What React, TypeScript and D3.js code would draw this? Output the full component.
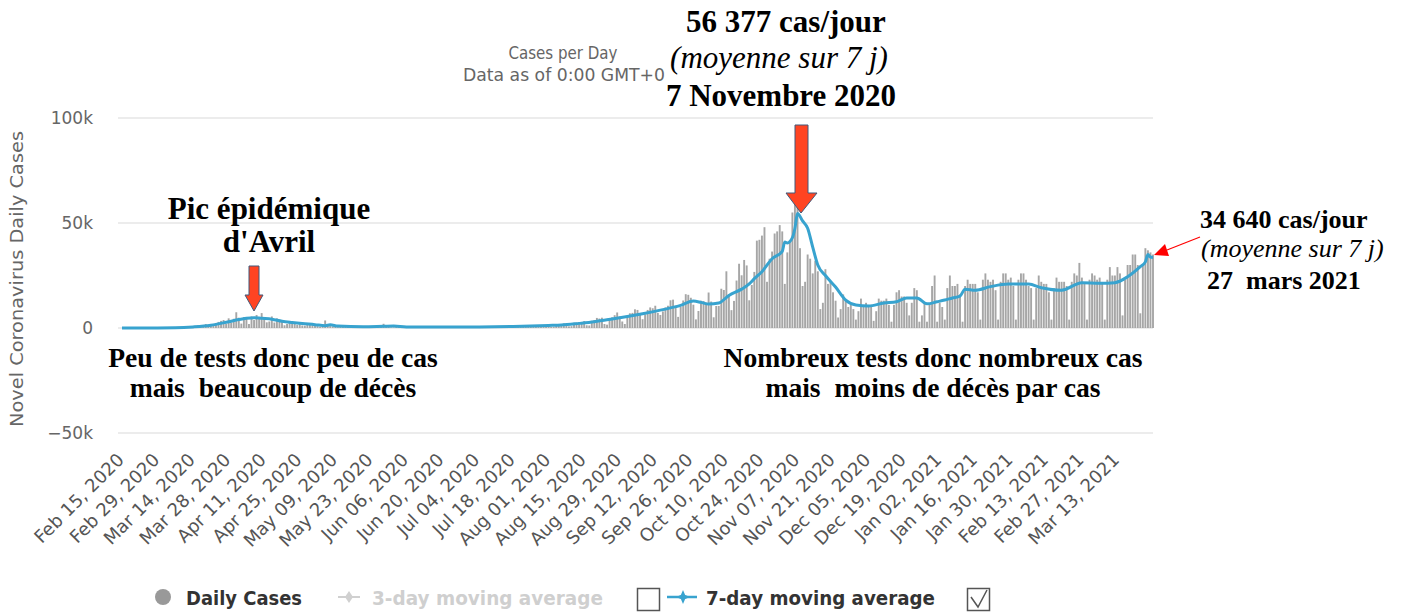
import React from "react";
import * as d3 from "d3";

const START = "2020-02-15";

// daily cases (thousands), one row per week, Sat -> Fri
const dailyCasesK = [
  0, 0, 0, 0, 0, 0, 0,
  0, 0, 0, 0, 0.01, 0.02, 0.02,
  0.04, 0.03, 0.04, 0.06, 0.05, 0.08, 0.3,
  0.1, 0.1, 0.3, 0.2, 0.4, 0.5, 0.8,
  0.8, 0.9, 1.2, 1.1, 1.4, 1.9, 1.6,
  1.8, 1.6, 2.4, 2.9, 3.4, 3.8, 1.9,
  4.6, 2.6, 4.4, 7.5, 4.9, 2.1, 5.2,
  4.3, 1.9, 5.5, 3.8, 6.2, 4.8, 7.1,
  4.3, 2.7, 3.1, 5.5, 2.6, 4.6, 3.6,
  3.0, 1.3, 1.9, 3.0, 2.3, 2.7, 1.5,
  1.9, 1.2, 1.1, 2.4, 1.8, 1.5, 1.3,
  0.9, 0.6, 0.6, 3.6, 1.2, 1.1, 0.8,
  0.6, 0.4, 0.5, 0.9, 1.0, 0.9, 0.7,
  0.5, 0.3, 0.3, 0.8, 0.7, 0.6, 0.5,
  0.4, 0.3, 0.3, 0.6, 0.5, 2.0, 0.8,
  0.8, 0.3, 0.3, 0.8, 0.7, 0.6, 0.5,
  0.5, 0.3, 0.2, 0.5, 0.5, 0.5, 0.5,
  0.4, 0.3, 0.3, 0.5, 0.6, 0.5, 0.4,
  0.4, 0.2, 0.3, 0.5, 0.6, 0.6, 0.5,
  0.5, 0.3, 0.3, 0.6, 0.6, 0.7, 0.6,
  0.5, 0.3, 0.3, 0.6, 0.6, 0.7, 0.6,
  0.6, 0.3, 0.3, 0.8, 0.8, 0.9, 0.7,
  0.7, 0.4, 0.4, 1.0, 1.1, 1.2, 1.0,
  1.0, 0.5, 0.5, 1.4, 1.4, 1.4, 1.3,
  1.3, 0.5, 0.6, 1.7, 1.7, 1.8, 2.2,
  2.0, 0.8, 0.9, 2.5, 2.6, 2.7, 2.8,
  3.3, 1.3, 1.2, 3.4, 3.8, 4.8, 4.5,
  4.9, 1.9, 1.6, 4.5, 5.1, 6.1, 7.4,
  5.5, 3.1, 1.9, 5.5, 7.0, 7.2, 8.9,
  8.6, 7.1, 4.2, 6.5, 8.6, 9.8, 9.4,
  10.6, 7.2, 6.2, 7.9, 9.8, 10.6, 13.2,
  13.5, 10.6, 5.3, 10.0, 13.1, 16.1, 15.8,
  14.4, 11.1, 4.1, 8.1, 13.0, 12.8, 12.1,
  16.9, 12.6, 5.1, 10.5, 10.5, 18.7, 18.1,
  27.0, 16.1, 8.5, 12.9, 22.6, 30.6, 25.1,
  32.4, 29.8, 13.2, 20.5, 26.7, 41.6, 42.0,
  44.0, 48.0, 22.0, 33.0, 36.4, 45.0, 46.0,
  49.0, 46.0, 21.0, 36.0, 41.0, 55.0, 61.0,
  86.0, 38.0, 20.0, 22.0, 35.0, 33.0, 26.0,
  32.0, 27.0, 9.0, 12.0, 28.0, 21.0, 22.0,
  17.0, 13.0, 5.0, 9.0, 16.0, 13.0, 10.0,
  11.0, 9.0, 4.0, 8.0, 14.0, 11.0, 12.0,
  11.0, 11.0, 3.4, 8.0, 14.0, 13.0, 13.0,
  14.0, 11.0, 3.0, 11.0, 17.0, 18.0, 15.0,
  15.0, 12.0, 6.0, 12.0, 19.0, 18.0, 3.0,
  6.0, 12.0, 3.0, 11.0, 20.0, 25.0, 3.0,
  12.0, 10.0, 4.0, 19.0, 25.0, 20.0, 20.0,
  21.0, 16.0, 3.0, 20.0, 23.0, 21.0, 21.0,
  21.0, 17.0, 4.0, 23.0, 26.0, 23.0, 22.0,
  23.0, 18.0, 4.0, 22.0, 26.0, 26.0, 23.0,
  24.0, 20.0, 4.0, 23.0, 26.0, 26.0, 23.0,
  20.0, 19.0, 4.0, 19.0, 25.0, 22.0, 21.0,
  21.0, 17.0, 4.0, 19.0, 24.0, 22.0, 22.0,
  22.0, 20.0, 4.0, 22.0, 26.0, 25.0, 31.0,
  24.0, 21.0, 4.0, 23.0, 26.0, 25.0, 23.0,
  24.0, 21.0, 4.0, 23.0, 29.0, 25.0, 25.0,
  29.0, 26.0, 6.0, 23.0, 30.0, 30.0, 35.0,
  35.0, 30.0, 7.0, 30.0, 38.0, 37.0, 36.0,
  35.0,
];

// 7-day moving average (thousands), read at the turning points
const avgDates = [
  "2020-02-15", "2020-02-29", "2020-03-07", "2020-03-14", "2020-03-21", "2020-03-28",
  "2020-04-01", "2020-04-04", "2020-04-07", "2020-04-10", "2020-04-14", "2020-04-18",
  "2020-04-22", "2020-04-26", "2020-05-01", "2020-05-05", "2020-05-07", "2020-05-10",
  "2020-05-20", "2020-05-28", "2020-06-01", "2020-06-06", "2020-06-20", "2020-07-04",
  "2020-07-18", "2020-08-01", "2020-08-06", "2020-08-13", "2020-08-19", "2020-08-26",
  "2020-09-01", "2020-09-07", "2020-09-14", "2020-09-18", "2020-09-22", "2020-09-27",
  "2020-09-30", "2020-10-03", "2020-10-07", "2020-10-11", "2020-10-16", "2020-10-19",
  "2020-10-21", "2020-10-24", "2020-10-28", "2020-11-01", "2020-11-02", "2020-11-03",
  "2020-11-05", "2020-11-06", "2020-11-07", "2020-11-09", "2020-11-11", "2020-11-13",
  "2020-11-15", "2020-11-18", "2020-11-22", "2020-11-26", "2020-11-30", "2020-12-05",
  "2020-12-11", "2020-12-16", "2020-12-20", "2020-12-24", "2020-12-28", "2021-01-01",
  "2021-01-04", "2021-01-07", "2021-01-10", "2021-01-12", "2021-01-16", "2021-01-22",
  "2021-01-29", "2021-02-06", "2021-02-11", "2021-02-19", "2021-02-27", "2021-03-06",
  "2021-03-12", "2021-03-17", "2021-03-22", "2021-03-24", "2021-03-25", "2021-03-26",
  "2021-03-27",
];
const avgValuesK = [
  0, 0.02, 0.1, 0.5, 1.3, 3.0,
  4.0, 4.6, 4.9, 4.6, 4.2, 3.2,
  2.6, 2.1, 1.6, 1.1, 1.5, 0.9,
  0.6, 0.8, 0.9, 0.5, 0.45, 0.5,
  0.75, 1.2, 1.4, 2.2, 3.0, 4.3,
  5.5, 6.8, 8.5, 9.6, 10.8, 12.8,
  12.2, 11.4, 11.9, 15.5, 18.5, 21.0,
  23.5, 26.8, 33.0, 36.5, 41.0, 40.5,
  43.0, 47.5, 54.5, 51.0, 47.5, 38.5,
  30.0, 25.0, 19.5, 13.3, 11.0, 10.5,
  11.9, 12.5, 14.3, 14.3, 11.5, 12.5,
  13.3, 14.3, 15.2, 18.5, 18.0, 19.7,
  20.9, 20.9, 19.2, 18.0, 21.6, 21.3,
  21.6, 24.4, 29.2, 31.5, 35.0, 33.8,
  33.6,
];

const xTickLabels = [
  "Feb 15, 2020", "Feb 29, 2020", "Mar 14, 2020", "Mar 28, 2020", "Apr 11, 2020",
  "Apr 25, 2020", "May 09, 2020", "May 23, 2020", "Jun 06, 2020", "Jun 20, 2020",
  "Jul 04, 2020", "Jul 18, 2020", "Aug 01, 2020", "Aug 15, 2020", "Aug 29, 2020",
  "Sep 12, 2020", "Sep 26, 2020", "Oct 10, 2020", "Oct 24, 2020", "Nov 07, 2020",
  "Nov 21, 2020", "Dec 05, 2020", "Dec 19, 2020", "Jan 02, 2021", "Jan 16, 2021",
  "Jan 30, 2021", "Feb 13, 2021", "Feb 27, 2021", "Mar 13, 2021",
];
const yTicks = [-50, 0, 50, 100];
const yTickLabels = ["−50k", "0", "50k", "100k"];

const W = 1406;
const H = 612;
const serif = "'Liberation Serif', 'Times New Roman', serif";
const sans = "'DejaVu Sans', Verdana, sans-serif";

export default function App() {
  const parse = d3.timeParse("%Y-%m-%d");
  const parseTick = d3.timeParse("%b %d, %Y");
  const start = parse(START)!;
  const days = dailyCasesK.map((v, i) => ({ date: d3.timeDay.offset(start, i), v }));
  const avg = avgDates.map((d, i) => ({ date: parse(d)!, v: avgValuesK[i] }));

  const x = d3.scaleTime()
    .domain([start, days[days.length - 1].date])
    .range([122, 1153]);
  const y = d3.scaleLinear().domain([-50, 100]).range([433, 118]);

  const line = d3.line<{ date: Date; v: number }>()
    .x((d) => x(d.date))
    .y((d) => y(d.v))
    .curve(d3.curveMonotoneX);

  const blue = "#38a3cf";
  const nb = "\u00a0"; // keeps the double spaces of the annotations

  return (
    <svg width={W} height={H} style={{ position: "absolute", left: 0, top: 0, background: "#fff" }}>
      {/* grid */}
      {yTicks.map((t, i) => (
        <g key={t}>
          <line x1={118} x2={1153} y1={y(t)} y2={y(t)} stroke="#e6e6e6" strokeWidth={1.5} />
          <text x={93} y={y(t) + 6} textAnchor="end" fontFamily={sans} fontSize={17} fill="#666">
            {yTickLabels[i]}
          </text>
        </g>
      ))}

      {/* titles */}
      <text x={563} y={59} textAnchor="middle" fontFamily={sans} fontSize={17} fill="#666"
        textLength={109} lengthAdjust="spacingAndGlyphs">Cases per Day</text>
      <text x={564} y={81} textAnchor="middle" fontFamily={sans} fontSize={17} fill="#666"
        textLength={202} lengthAdjust="spacingAndGlyphs">Data as of 0:00 GMT+0</text>
      <text transform="translate(23,279) rotate(-90)" textAnchor="middle" fontFamily={sans}
        fontSize={17} fill="#666" textLength={296} lengthAdjust="spacingAndGlyphs">
        Novel Coronavirus Daily Cases
      </text>

      {/* bars */}
      {days.map((d, i) => (
        <rect key={i} x={x(d.date) - 0.95} width={1.9}
          y={y(d.v)} height={Math.max(0, y(0) - y(d.v))} fill="#a6a6a6" />
      ))}

      {/* 7-day line */}
      <path d={line(avg) ?? ""} fill="none" stroke={blue} strokeWidth={3} strokeLinejoin="round" />

      {/* x axis labels */}
      {xTickLabels.map((l) => {
        const tx = x(parseTick(l)!);
        return (
          <text key={l} transform={`translate(${tx + 3},${461}) rotate(-45)`} textAnchor="end"
            fontFamily={sans} fontSize={18} fill="#555">{l}</text>
        );
      })}

      {/* legend */}
      <circle cx={163} cy={597} r={8} fill="#999" />
      <text x={186} y={605} fontFamily={sans} fontWeight="bold" fontSize={20} fill="#333"
        textLength={116} lengthAdjust="spacingAndGlyphs">Daily Cases</text>
      <line x1={338} x2={360} y1={597} y2={597} stroke="#d0d0d0" strokeWidth={2} />
      <path d="M349,591 L353,597 L349,603 L345,597 Z" fill="#d0d0d0" />
      <text x={372} y={605} fontFamily={sans} fontWeight="bold" fontSize={20} fill="#cfcfcf"
        textLength={231} lengthAdjust="spacingAndGlyphs">3-day moving average</text>
      <rect x={637.5} y={588.5} width={22} height={22} fill="none" stroke="#555" strokeWidth={1.5} />
      <line x1={667} x2={697} y1={597} y2={597} stroke={blue} strokeWidth={2.5} />
      <path d="M683,590 L686,597 L683,604 L680,597 Z M676,597 L683,594 L690,597 L683,600 Z" fill={blue} />
      <text x={706} y={605} fontFamily={sans} fontWeight="bold" fontSize={20} fill="#333"
        textLength={229} lengthAdjust="spacingAndGlyphs">7-day moving average</text>
      <rect x={967.5} y={588.5} width={22} height={22} fill="none" stroke="#555" strokeWidth={1.5} />
      <path d="M971,597 L978,607 L987,590" fill="none" stroke="#555" strokeWidth={1.5} />

      {/* annotations */}
      <text x={786} y={32} textAnchor="middle" fontFamily={serif} fontWeight="bold" fontSize={31}>
        56 377 cas/jour
      </text>
      <text x={779} y={68} textAnchor="middle" fontFamily={serif} fontStyle="italic" fontSize={31}>
        (moyenne sur 7 j)
      </text>
      <text x={781} y={106} textAnchor="middle" fontFamily={serif} fontWeight="bold" fontSize={31}>
        7 Novembre 2020
      </text>
      <polygon points="795,125 808,125 808,193 817,193 801,213 786,193 795,193"
        fill="#ff4422" stroke="#41597a" strokeWidth={1} />

      <text x={269} y={219} textAnchor="middle" fontFamily={serif} fontWeight="bold" fontSize={31}>
        Pic épidémique
      </text>
      <text x={269} y={252} textAnchor="middle" fontFamily={serif} fontWeight="bold" fontSize={31}>
        d'Avril
      </text>
      <polygon points="249,266 259,266 259,295 263,295 254,311 245,295 249,295"
        fill="#ff4422" stroke="#41597a" strokeWidth={1} />

      <g fontFamily={serif} fontWeight="bold" fontSize={27.6} textAnchor="middle">
        <text x={273} y={367}>Peu de tests donc peu de cas</text>
        <text x={273} y={397}>{`mais ${nb}beaucoup de décès`}</text>
        <text x={933} y={367}>Nombreux tests donc nombreux cas</text>
        <text x={933} y={397}>{`mais ${nb}moins de décès par cas`}</text>
      </g>

      <g fontFamily={serif} fontSize={26}>
        <text x={1200} y={228} fontWeight="bold">34 640 cas/jour</text>
        <text x={1201} y={257} fontStyle="italic">(moyenne sur 7 j)</text>
        <text x={1207} y={289} fontWeight="bold">{`27 ${nb}mars 2021`}</text>
      </g>
      <line x1={1200} y1={237} x2={1167} y2={250} stroke="#ff0000" strokeWidth={1.2} />
      <polygon points="1154,255 1169,256 1165,244" fill="#ff0000" />
    </svg>
  );
}
